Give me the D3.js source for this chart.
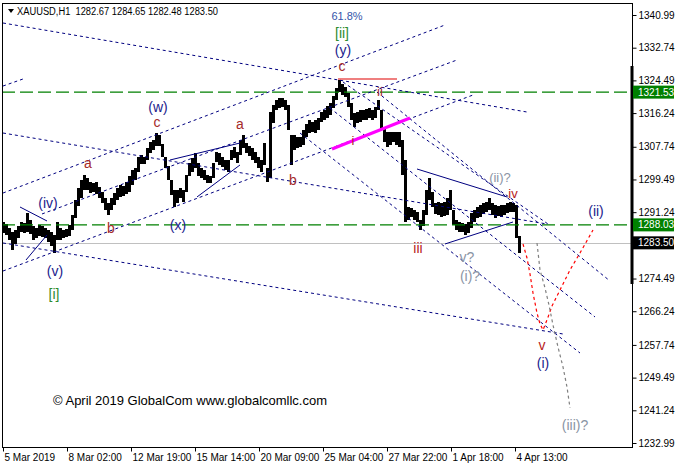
<!DOCTYPE html>
<html><head><meta charset="utf-8">
<script src="https://cdn.jsdelivr.net/npm/d3@7"></script>
<style>
body{margin:0;background:#fff;}
svg{display:block;}
</style></head>
<body>
<svg id="chart" width="677" height="467"></svg>
<script>
// ---------- data ----------
const barHours = d3.range(0, 519, 3); // hour index of each sampled bar
const highs = [
1288.8,1288.3,1287.2,1286.2,1286.7,1287.8,1288.8,1288.5,1291.0,1289.3,
1287.8,1287.2,1288.0,1287.8,1287.2,1286.7,1286.2,1285.5,1288.8,1287.2,
1286.7,1287.0,1288.0,1290.5,1294.3,1297.3,1299.4,1300.6,1299.9,1298.8,
1298.6,1298.8,1297.6,1296.3,1294.8,1293.6,1294.8,1296.1,1297.3,1298.1,
1297.8,1298.8,1300.4,1301.9,1302.4,1305.2,1305.7,1305.2,1307.4,1309.0,
1309.5,1311.2,1310.7,1308.4,1305.2,1302.9,1299.4,1296.8,1296.8,1297.3,
1296.8,1300.6,1303.6,1304.9,1306.2,1303.6,1302.4,1301.9,1300.6,1300.4,
1303.6,1306.4,1306.2,1305.2,1304.4,1304.4,1306.9,1307.7,1306.4,1309.5,
1310.7,1308.7,1307.9,1307.4,1306.4,1305.2,1304.4,1308.7,1302.4,1316.5,
1318.3,1319.5,1320.1,1320.1,1319.5,1318.3,1310.7,1310.7,1310.2,1310.2,
1312.0,1313.5,1314.5,1314.0,1314.5,1315.0,1316.5,1317.0,1318.0,1318.8,
1320.6,1322.6,1324.6,1323.6,1322.8,1321.3,1318.8,1316.3,1316.5,1317.0,
1317.0,1317.3,1317.5,1317.0,1317.8,1319.5,1317.0,1312.5,1311.5,1311.5,
1311.5,1311.5,1311.5,1309.5,1304.4,1292.6,1292.3,1291.8,1291.3,1289.3,
1291.8,1296.8,1299.9,1296.3,1293.6,1293.8,1293.6,1293.8,1294.8,1296.8,
1291.8,1289.3,1288.8,1288.5,1288.3,1288.8,1291.0,1291.8,1292.6,1293.1,
1293.6,1293.8,1294.8,1293.6,1293.1,1292.8,1293.1,1293.1,1293.6,1293.8,
1293.6,1293.1,1285.2];
const lows = [
1286.0,1285.5,1284.2,1281.7,1283.2,1284.7,1286.2,1286.0,1286.2,1285.7,
1284.2,1284.7,1285.2,1285.0,1284.7,1283.7,1282.7,1280.9,1284.2,1284.2,
1284.7,1285.0,1285.2,1286.7,1289.8,1292.8,1294.8,1296.8,1296.8,1296.1,
1296.3,1295.8,1294.8,1293.6,1291.8,1290.5,1291.8,1293.1,1294.3,1295.1,
1295.3,1295.8,1296.3,1298.1,1299.4,1301.4,1303.4,1303.4,1304.4,1306.2,
1306.9,1307.9,1307.9,1305.2,1302.4,1299.4,1295.6,1292.6,1293.6,1294.8,
1293.8,1296.3,1300.4,1301.4,1302.4,1300.4,1299.9,1299.4,1298.6,1298.6,
1299.9,1303.9,1303.1,1302.6,1301.9,1301.4,1304.4,1304.9,1303.6,1305.7,
1307.4,1306.2,1305.4,1304.4,1303.6,1302.4,1301.4,1303.1,1298.8,1299.9,
1313.7,1317.0,1317.5,1317.8,1317.0,1312.0,1303.1,1306.9,1307.4,1307.7,
1308.2,1310.2,1311.2,1311.5,1311.2,1312.0,1314.0,1314.5,1315.0,1315.8,
1317.5,1319.5,1321.6,1320.8,1320.3,1317.8,1314.5,1312.7,1313.7,1314.0,
1314.5,1314.5,1315.0,1314.5,1315.0,1317.0,1312.0,1309.0,1307.7,1308.2,
1309.0,1308.2,1307.7,1300.6,1288.8,1289.3,1290.0,1289.3,1288.8,1286.7,
1287.8,1290.5,1294.3,1292.6,1290.8,1290.5,1290.0,1290.3,1290.5,1291.8,
1288.0,1286.7,1286.2,1286.2,1285.5,1286.0,1287.2,1288.8,1289.8,1290.0,
1290.8,1291.3,1291.8,1290.5,1289.8,1290.3,1290.0,1290.5,1291.0,1291.3,
1291.3,1284.7,1280.9];

const yTickValues = [1340.99,1332.74,1324.49,1316.24,1307.74,1299.49,1291.24,1274.49,1266.24,1257.74,1249.49,1241.24,1232.99];
const xTickHours = [0,64,128,192,256,320,384,448,512];
const xTickLabels = ["5 Mar 2019","8 Mar 02:00","12 Mar 19:00","15 Mar 14:00","20 Mar 09:00","25 Mar 04:00","27 Mar 22:00","1 Apr 18:00","4 Apr 13:00"];
const levelPrices = [1321.53, 1288.03];
const lastPrice = 1283.50;
const headerText = "XAUUSD,H1  1282.67 1284.65 1282.48 1283.50";
const copyrightText = "\u00A9 April 2019 GlobalCom www.globalcomllc.com";

// trend lines: [hour1, price1, hour2, price2]
const dottedLines = [
 [0,1338.97,524,1316.51],
 [0,1323.07,20,1324.84],
 [0,1296.07,442,1338.47],
 [39,1290.78,454,1329.64],
 [0,1276.39,470,1320.80],
 [0,1311.21,544,1288.25],
 [0,1283.46,560,1260.50],
 [374,1321.56,607,1273.87],
 [327,1317.52,592,1264.79],
 [340,1324.08,545,1288.25],
 [297,1311.21,577,1255.70]
];
const solidLines = [
 [167,1304.40,237,1308.69],
 [194,1295.07,237,1303.14],
 [17,1292.54,44,1289.01],
 [23,1279.17,44,1285.48],
 [414,1302.13,504,1295.07],
 [442,1283.21,510,1288.76]
];
const magentaLine = [329,1307.18,407,1315.00];
const redLine = [335,1324.84,394,1324.84];
const redPathHours  = [520,524,527,530,534,537,540,544,549,557,567,577,590];
const redPathPrices = [1283.21,1279.67,1275.64,1270.84,1265.80,1263.02,1261.51,1264.03,1267.56,1271.60,1276.65,1280.93,1286.74];
const greyPathHours  = [534,537,542,546,550,555,560,564,567];
const greyPathPrices = [1283.46,1276.65,1272.10,1267.81,1262.77,1257.21,1252.17,1247.12,1241.82];

const waveLabels = [
 ["61.8%",344,1340.74,"fib"],
 ["[ii]",339,1336.45,"green"],
 ["(y)",340,1332.16,"navy"],
 ["c",339,1328.12,"brown"],
 ["ii",377,1321.81,"brown"],
 ["i",350,1309.45,"brown"],
 ["(w)",155,1317.78,"navy"],
 ["c",154,1313.99,"brown"],
 ["a",85,1303.65,"brown"],
 ["b",108,1287.24,"brown"],
 ["(iv)",45,1293.55,"navy"],
 ["(x)",175,1288.00,"navy"],
 ["a",237,1313.49,"brown"],
 ["b",290,1299.36,"brown"],
 ["(v)",52,1276.39,"navy"],
 ["[i]",51,1270.59,"green"],
 ["iii",415,1282.20,"red"],
 ["v?",464,1279.93,"grey"],
 ["(i)?",467,1275.13,"grey"],
 ["(ii)?",497,1300.10,"grey"],
 ["iv",510,1296.00,"red"],
 ["(ii)",593,1291.53,"navy"],
 ["v",539,1257.72,"red"],
 ["(i)",540,1253.18,"navy"],
 ["(iii)?",572,1237.54,"grey"]
];

// ---------- drawing ----------
const colors = {navy:"#22228c", brown:"#a52a2a", red:"#b81c1c", grey:"#8a94a4", green:"#2e8b2e", fib:"#3355aa"};
const svg = d3.select("#chart");
const x = d3.scaleLinear().domain([0, 629]).range([3, 632]);
const y = d3.scaleLinear().domain([1232.99, 1340.99]).range([443, 15]);
const L = 2, R = 632, T = 3, B = 447;
const FONT = "'Liberation Sans', Arial, sans-serif";

svg.append("defs").append("clipPath").attr("id","plot")
  .append("rect").attr("x",L).attr("y",T).attr("width",R-L).attr("height",B-T);
const g = svg.append("g").attr("clip-path","url(#plot)");

// last price line
g.append("line").attr("x1",L).attr("x2",R).attr("y1",Math.round(y(lastPrice))+0.5).attr("y2",Math.round(y(lastPrice))+0.5)
  .attr("stroke","#c0c0c0").attr("stroke-width",1);

// price bars (high/low of sampled bars)
g.append("g").selectAll("rect").data(barHours).join("rect")
  .attr("x", d => x(d)-1).attr("width",3)
  .attr("y",(d,i)=>y(highs[i])).attr("height",(d,i)=>Math.max(1,y(lows[i])-y(highs[i])))
  .attr("fill","#000").attr("shape-rendering","crispEdges");

// green level lines
g.selectAll(".lvl").data(levelPrices).join("line").attr("class","lvl")
  .attr("x1",L).attr("x2",R).attr("y1",d=>y(d)).attr("y2",d=>y(d))
  .attr("stroke","#008000").attr("stroke-width",1.3).attr("stroke-dasharray","13,5");

// dotted trend lines
g.selectAll(".dl").data(dottedLines).join("line").attr("class","dl")
  .attr("x1",d=>x(d[0])).attr("y1",d=>y(d[1])).attr("x2",d=>x(d[2])).attr("y2",d=>y(d[3]))
  .attr("stroke","#000080").attr("stroke-width",1).attr("stroke-dasharray","3,3");
g.selectAll(".sl").data(solidLines).join("line").attr("class","sl")
  .attr("x1",d=>x(d[0])).attr("y1",d=>y(d[1])).attr("x2",d=>x(d[2])).attr("y2",d=>y(d[3]))
  .attr("stroke","#000080").attr("stroke-width",1);
g.append("line").attr("x1",x(magentaLine[0])).attr("y1",y(magentaLine[1])).attr("x2",x(magentaLine[2])).attr("y2",y(magentaLine[3]))
  .attr("stroke","#ff00ff").attr("stroke-width",3);
g.append("line").attr("x1",x(redLine[0])).attr("y1",y(redLine[1])).attr("x2",x(redLine[2])).attr("y2",y(redLine[3]))
  .attr("stroke","#e00000").attr("stroke-width",1.2);

const lineGen = d3.line().x(d=>x(d[0])).y(d=>y(d[1]));
g.append("path").attr("d", lineGen(redPathHours.map((h,i)=>[h,redPathPrices[i]])))
  .attr("fill","none").attr("stroke","#ff0000").attr("stroke-width",1.2).attr("stroke-dasharray","3,3");
g.append("path").attr("d", lineGen(greyPathHours.map((h,i)=>[h,greyPathPrices[i]])))
  .attr("fill","none").attr("stroke","#808080").attr("stroke-width",1.2).attr("stroke-dasharray","3,3");

// wave labels
g.selectAll(".wl").data(waveLabels).join("text").attr("class","wl")
  .attr("x",d=>x(d[1])).attr("y",d=>y(d[2])).attr("dy","0.36em")
  .attr("text-anchor","middle")
  .attr("font-family",FONT)
  .attr("font-size",d=>d[3]==="fib"?11:(d[0]==="i"||d[0]==="ii"||d[0]==="iv"||d[0]==="(ii)?")?13:14)
  .attr("fill",d=>colors[d[3]]).text(d=>d[0]);

// copyright
svg.append("text").attr("x",53).attr("y",405).attr("font-family",FONT)
  .attr("font-size",13).attr("fill","#000").text(copyrightText);

// frame
svg.append("rect").attr("x",L+0.5).attr("y",T+0.5).attr("width",R-L).attr("height",B-T)
  .attr("fill","none").attr("stroke","#000").attr("stroke-width",1);
svg.append("rect").attr("x",630.5).attr("y",66).attr("width",3).attr("height",218).attr("fill","#000");

// axes
const yAxis = d3.axisRight(y).tickValues(yTickValues).tickSize(4).tickPadding(2).tickFormat(d3.format(".2f"));
const ya = svg.append("g").attr("transform",`translate(${R+0.5},0)`).call(yAxis);
ya.select(".domain").remove();
ya.selectAll("text").attr("font-family",FONT).attr("font-size",10).attr("fill","#000");
ya.selectAll("line").attr("stroke","#000");

const xAxis = d3.axisBottom(x).tickValues(xTickHours).tickSize(4).tickPadding(2).tickFormat((d,i)=>xTickLabels[i]);
const xa = svg.append("g").attr("transform",`translate(0,${B+0.5})`).call(xAxis);
xa.select(".domain").remove();
xa.selectAll("text").attr("text-anchor","start").attr("x",1)
  .attr("font-family",FONT).attr("font-size",10).attr("fill","#000");
xa.selectAll("line").attr("stroke","#000");

// price boxes on the axis
const boxes = levelPrices.map(p=>[p,"#008000"]).concat([[lastPrice,"#000"]]);
boxes.forEach(([p,c])=>{
  const yy = y(p);
  svg.append("rect").attr("x",633).attr("y",yy-6.5).attr("width",41).attr("height",13).attr("fill",c);
  svg.append("text").attr("x",638).attr("y",yy).attr("dy","0.35em")
    .attr("font-family",FONT).attr("font-size",10).attr("fill","#fff")
    .text(d3.format(".2f")(p));
});

// header
svg.append("path").attr("d","M8,9 L14,9 L11,13 Z").attr("fill","#000");
svg.append("text").attr("x",17).attr("y",15).attr("font-family",FONT)
  .attr("font-size",10).attr("textLength",201).attr("lengthAdjust","spacingAndGlyphs").attr("fill","#000")
  .style("white-space","pre").text(headerText);
</script>
</body></html>
